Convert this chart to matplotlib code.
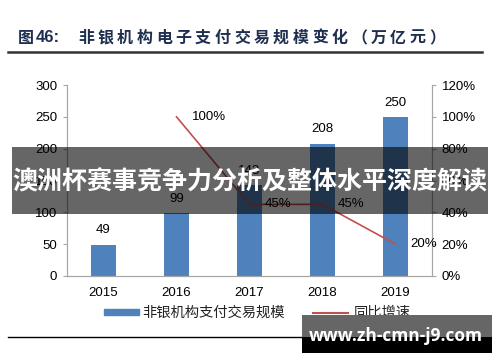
import matplotlib
matplotlib.use("Agg")
import matplotlib.pyplot as plt
from matplotlib.patches import Rectangle
from matplotlib.lines import Line2D
import numpy as np

years = ["2015", "2016", "2017", "2018", "2019"]
volume = [49, 99, 143, 208, 250]
growth = [np.nan, 100, 45, 45, 20]
left_ticks = [0, 50, 100, 150, 200, 250, 300]
right_ticks = [0, 20, 40, 60, 80, 100, 120]

title_head = "图"
title_num = "46:"
title_body = "非银机构电子支付交易规模变化（万亿元）"
legend_bar = "非银机构支付交易规模"
legend_line = "同比增速"
banner = "澳洲杯赛事竞争力分析及整体水平深度解读"
watermark = "www.zh-cmn-j9.com"

CJK = ["Noto Sans CJK SC", "DejaVu Sans"]
LAT = ["Liberation Sans", "DejaVu Sans"]
W, H = 500, 362

fig = plt.figure(figsize=(5, 3.62), dpi=100)
fig.patch.set_facecolor("white")

def fx(px):
    return px / W

def fy(py):
    return 1 - py / H

ax = fig.add_axes([fx(67), fy(276), fx(432) - fx(67), fy(85) - fy(276)])
x = np.arange(len(years))
bar_color = "#4F81BD"
line_color = "#C0504D"
ax.bar(x, volume, width=0.33, color=bar_color, zorder=2)
ax.set_xlim(-0.5, 4.5)
ax.set_ylim(0, 300)
ax.set_yticks(left_ticks)
ax.set_yticklabels([str(t) for t in left_ticks], family=LAT, fontsize=9.5)
ax.set_xticks(x)
ax.set_xticklabels(years, family=LAT, fontsize=9.5)
ax.tick_params(axis="x", length=0, pad=8)
ax.tick_params(axis="y", length=3, color="#A6A6A6", pad=4)
ax.spines["top"].set_visible(False)
for s in ["left", "bottom", "right"]:
    ax.spines[s].set_color("#A6A6A6")
for xi, v in zip(x, volume):
    ax.annotate(str(v), (xi, v), xytext=(0, 6), textcoords="offset points",
                ha="center", va="bottom", family=LAT, fontsize=9.5)

ax2 = ax.twinx()
ax2.set_ylim(0, 120)
ax2.set_yticks(right_ticks)
ax2.set_yticklabels([f"{t}%" for t in right_ticks], family=LAT, fontsize=9.5)
ax2.tick_params(axis="y", length=3, color="#A6A6A6", pad=4)
ax2.spines["top"].set_visible(False)
for s in ["left", "bottom", "right"]:
    ax2.spines[s].set_color("#A6A6A6")
ax2.plot(x, growth, color=line_color, lw=1.2, zorder=3)
for xi, g in zip(x, growth):
    if not np.isnan(g):
        ax2.annotate(f"{int(g)}%", (xi, g), xytext=(11, 0), textcoords="offset points",
                     ha="left", va="center", family=LAT, fontsize=9.5)

# Title (wide letter spacing, drawn char by char)
tcol = "#1F2F4F"
fig.text(fx(18), fy(38), title_head, family=CJK, fontsize=11.5, fontweight="bold",
         color=tcol, ha="left", va="center")
fig.text(fx(36), fy(38), title_num, family=LAT, fontsize=12, fontweight="bold",
         color=tcol, ha="left", va="center")
for i, ch in enumerate(title_body):
    fig.text(fx(78 + i * 19.5), fy(38), ch, family=CJK, fontsize=11.5, fontweight="bold",
             color=tcol, ha="left", va="center")
fig.add_artist(Line2D([fx(8), fx(482)], [fy(52), fy(52)], color="#333333", lw=1.8))
fig.add_artist(Line2D([fx(8), fx(305)], [fy(337), fy(337)], color="#000000", lw=1.0))

# Legend
fig.add_artist(Rectangle((fx(104), fy(315)), fx(35), fy(309) - fy(315), color=bar_color))
fig.text(fx(142), fy(313), legend_bar, family=CJK, fontsize=10.3, ha="left", va="center",
         color="#222222")
fig.add_artist(Line2D([fx(313), fx(348)], [fy(313), fy(313)], color=line_color, lw=1.5))
fig.text(fx(354), fy(313), legend_line, family=CJK, fontsize=10.3, ha="left", va="center",
         color="#222222")

# Banner overlay
fig.add_artist(Rectangle((fx(12), fy(214)), fx(488) - fx(12), fy(147) - fy(214),
                         color="black", alpha=0.6, lw=0, zorder=5))
fig.text(fx(250), fy(182), banner, family=CJK, fontsize=18, fontweight="bold",
         color="white", ha="center", va="center", zorder=6)

# Watermark box
fig.add_artist(Rectangle((fx(302), fy(337)), fx(492) - fx(302), fy(315) - fy(337),
                         color="#666666", lw=0, zorder=5))
fig.add_artist(Rectangle((fx(302), fy(353)), fx(492) - fx(302), fy(337) - fy(353),
                         color="#000000", lw=0, zorder=5))
fig.text(fx(396), fy(336), watermark, family=["Open Sans", "DejaVu Sans"], fontsize=12.5,
         fontweight="bold", color="white", ha="center", va="center", zorder=6)

fig.savefig("out.png", dpi=100)
